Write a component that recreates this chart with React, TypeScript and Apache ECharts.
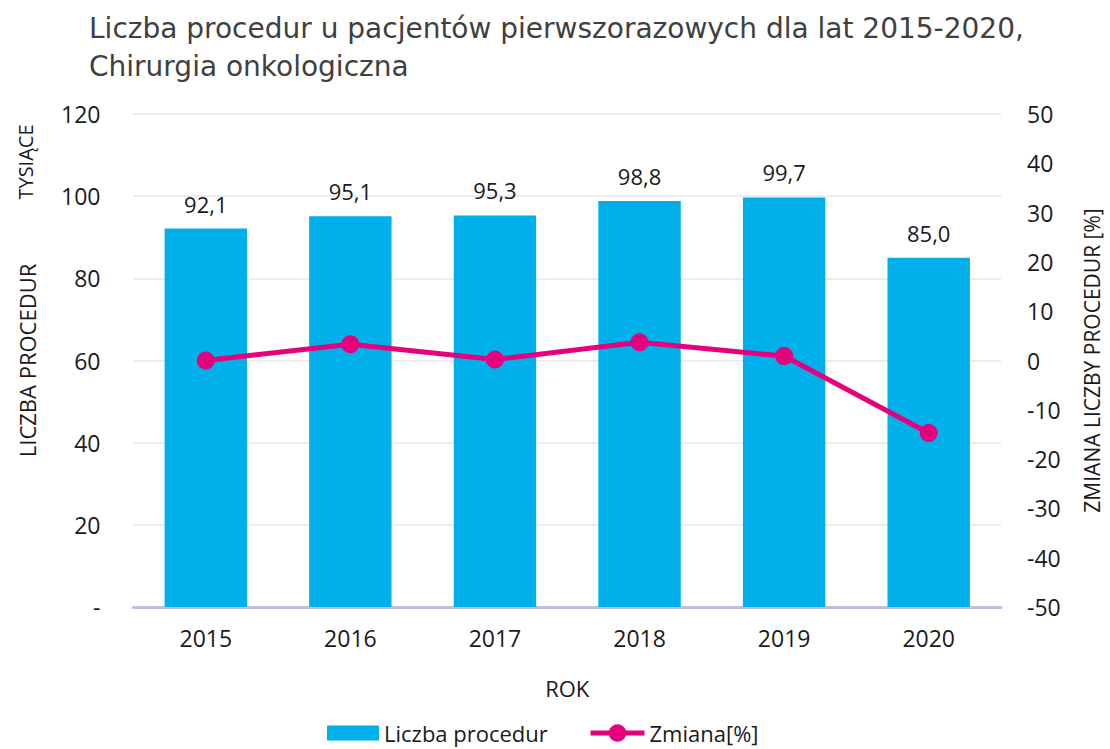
import React, { useEffect, useRef } from "react";
import * as echarts from "echarts";

const years = ["2015", "2016", "2017", "2018", "2019", "2020"];
const procedures = [92.1, 95.1, 95.3, 98.8, 99.7, 85.0];
const changePct = [0, 3.3, 0.2, 3.7, 0.9, -14.7];

const FONT = "'Open Sans', 'Noto Sans', sans-serif";
const TXT = "#1a1a1a";

export default function App() {
  const ref = useRef<HTMLDivElement>(null);
  useEffect(() => {
    const chart = echarts.init(ref.current!, null, { renderer: "svg" });
    chart.setOption({
      animation: false,
      textStyle: { fontFamily: FONT },
      title: {
        text: "Liczba procedur u pacjentów pierwszorazowych dla lat 2015-2020,\nChirurgia onkologiczna",
        left: 84,
        top: 4,
        textStyle: {
          fontFamily: "'DejaVu Sans', sans-serif",
          fontSize: 28,
          fontWeight: "normal",
          color: "#404040",
          lineHeight: 38,
        },
      },
      grid: { left: 133.5, right: 106.5, top: 114, bottom: 142 },
      legend: [
        {
          top: 717,
          left: 322,
          itemGap: 35,
          textStyle: { fontFamily: FONT, fontSize: 22, color: TXT },
          data: [{ name: "Liczba procedur", icon: "rect", itemStyle: { color: "#00B0EA" } }],
          itemWidth: 52,
          itemHeight: 15,
        },
        {
          top: 717,
          left: 583,
          textStyle: { fontFamily: FONT, fontSize: 22, color: TXT },
          data: [{ name: "Zmiana[%]", lineStyle: { width: 5, color: "#E6007E" } }],
          itemWidth: 54,
          itemHeight: 22,
        },
      ],
      graphic: [
        {
          type: "text",
          x: 25,
          y: 162,
          rotation: Math.PI / 2,
          style: {
            text: "TYSIĄCE",
            font: `20px ${FONT}`,
            fill: TXT,
            textAlign: "center",
            textVerticalAlign: "middle",
          },
        },
      ],
      xAxis: {
        type: "category",
        data: years,
        name: "ROK",
        nameLocation: "middle",
        nameGap: 70,
        nameTextStyle: { fontFamily: FONT, fontSize: 22, color: TXT },
        axisLine: { lineStyle: { color: "#bfbfe3", width: 3 } },
        axisTick: { show: false },
        axisLabel: { fontFamily: FONT, fontSize: 23, color: TXT, margin: 19 },
      },
      yAxis: [
        {
          type: "value",
          min: 0,
          max: 120,
          interval: 20,
          name: "LICZBA PROCEDUR",
          nameLocation: "middle",
          nameGap: 96,
          nameRotate: 90,
          nameTextStyle: { fontFamily: FONT, fontSize: 22, color: TXT },
          axisLine: { show: false },
          axisTick: { show: false },
          axisLabel: {
            fontFamily: FONT,
            fontSize: 23,
            color: TXT,
            margin: 33,
            formatter: (v: number) => (v === 0 ? "-" : String(v)),
          },
          splitLine: { lineStyle: { color: "#ebebf5", width: 2 } },
        },
        {
          type: "value",
          min: -50,
          max: 50,
          interval: 10,
          name: "ZMIANA LICZBY PROCEDUR [%]",
          nameLocation: "middle",
          nameGap: 80,
          nameRotate: 90,
          nameTextStyle: { fontFamily: FONT, fontSize: 21, color: TXT },
          axisLine: { show: false },
          axisTick: { show: false },
          axisLabel: { fontFamily: FONT, fontSize: 23, color: TXT, margin: 26 },
          splitLine: { show: false },
        },
      ],
      series: [
        {
          name: "Liczba procedur",
          type: "bar",
          data: procedures,
          barWidth: "57%",
          itemStyle: { color: "#00B0EA" },
          label: {
            show: true,
            position: "top",
            distance: 14,
            fontFamily: FONT,
            fontSize: 22,
            color: TXT,
            formatter: (p: any) => p.value.toFixed(1).replace(".", ","),
          },
        },
        {
          name: "Zmiana[%]",
          type: "line",
          yAxisIndex: 1,
          data: changePct,
          symbol: "circle",
          symbolSize: 18,
          lineStyle: { color: "#E6007E", width: 5 },
          itemStyle: { color: "#E6007E" },
        },
      ],
    });
    return () => chart.dispose();
  }, []);
  return (
    <div
      ref={ref}
      style={{ position: "absolute", left: 0, top: 0, width: 1110, height: 749 }}
    />
  );
}
